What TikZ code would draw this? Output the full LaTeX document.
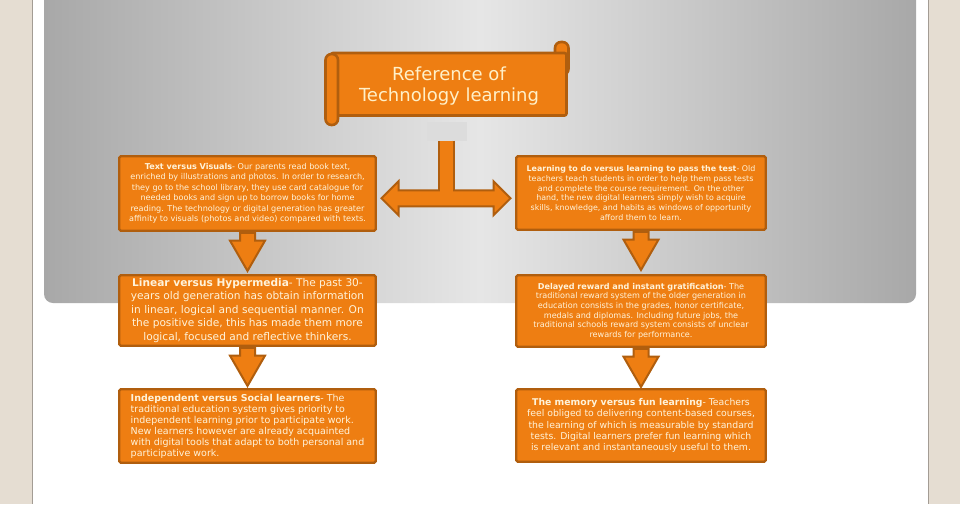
\documentclass[tikz,border=0pt]{standalone}
\usepackage{fontspec}
\setmainfont{DejaVu Sans}
\usetikzlibrary{shapes.arrows}
\definecolor{boxorange}{HTML}{EE7E12}
\definecolor{boxline}{HTML}{B05E0E}
\definecolor{boxtext}{HTML}{FFF3DA}
\definecolor{titletext}{HTML}{FFF0C8}
\definecolor{pagebeige}{HTML}{E5DDD2}
\definecolor{pageedge}{HTML}{A39C94}
\definecolor{paneldark}{HTML}{A8A8A8}
\definecolor{panellight}{HTML}{E6E6E6}
\definecolor{hubgray}{HTML}{DCDCDC}

\begin{document}
\begin{tikzpicture}[x=1pt,y=1pt]
\tikzset{
  infobox/.style={draw=boxline, line width=2.4pt, fill=boxorange, text=boxtext,
    rounded corners=1.5pt, inner sep=2pt, align=center},
  leftbox/.style={infobox, minimum width=256.5pt},
  rightbox/.style={infobox, minimum width=249.5pt},
  scrollpart/.style={draw=boxline, line width=2.6pt, fill=boxorange},
  downarrow/.style={single arrow, rotate=-90, anchor=tail, draw=boxline, line width=2pt,
    fill=boxorange, inner xsep=0pt, inner ysep=6.5pt, minimum height=38pt,
    single arrow head extend=10pt, single arrow tip angle=60},
  splitarrow/.style={double arrow, draw=boxline, line width=2pt, fill=boxorange,
    inner xsep=0pt, inner ysep=7pt, minimum height=129pt,
    double arrow head extend=9pt, double arrow tip angle=90}
}
\useasboundingbox (0,0) rectangle (960,-504);
% page and panel
\fill[pagebeige] (0,0) rectangle (960,-504);
\fill[white] (33,0) rectangle (928,-504);
\draw[pageedge, line width=1pt] (32.5,0) -- (32.5,-504);
\draw[pageedge, line width=1pt] (928.5,0) -- (928.5,-504);
\shade[left color=paneldark, right color=paneldark, middle color=panellight,
  rounded corners=9pt] (44,12) rectangle (916,-303);

% title scroll
\draw[scrollpart, rounded corners=6pt] (555,-42) rectangle (568.5,-75);
\draw[scrollpart, rounded corners=2pt] (331,-53) rectangle (566.5,-115.5);
\draw[scrollpart, rounded corners=6pt] (325.5,-54) rectangle (338,-125);
\node[text=titletext, font=\fontsize{18}{21.5}\selectfont, align=center]
  (title) at (449,-86) {Reference of\\Technology learning};
\node[fill=hubgray, minimum width=40pt, minimum height=19pt, inner sep=0pt]
  (hub) at (446.5,-131) {};

% left column
\node[leftbox, minimum height=74.5pt, font=\fontsize{8.1}{10.5}\selectfont]
  (tv) at (247.5,-193.5) {\textbf{Text versus Visuals}- Our parents read book text,\\
  enriched by illustrations and photos. In order to research,\\
  they go to the school library, they use card catalogue for\\
  needed books and sign up to borrow books for home\\
  reading. The technology or digital generation has greater\\
  affinity to visuals (photos and video) compared with texts.};
\node[leftbox, minimum height=70.5pt, font=\fontsize{10.6}{13.5}\selectfont]
  (lh) at (247.5,-310.5) {\textbf{Linear versus Hypermedia}- The past 30-\\
  years old generation has obtain information\\
  in linear, logical and sequential manner. On\\
  the positive side, this has made them more\\
  logical, focused and reflective thinkers.};
\node[leftbox, minimum height=73.5pt, align=left, font=\fontsize{9.5}{11}\selectfont]
  (is) at (247.5,-426) {\textbf{Independent versus Social learners}- The\\
  traditional education system gives priority to\\
  independent learning prior to participate work.\\
  New learners however are already acquainted\\
  with digital tools that adapt to both personal and\\
  participative work.};

% right column
\node[rightbox, minimum height=73.5pt, font=\fontsize{7.9}{9.7}\selectfont]
  (ld) at (641,-193) {\textbf{Learning to do versus learning to pass the test}- Old\\
  teachers teach students in order to help them pass tests\\
  and complete the course requirement. On the other\\
  hand, the new digital learners simply wish to acquire\\
  skills, knowledge, and habits as windows of opportunity\\
  afford them to learn.};
\node[rightbox, minimum height=71.5pt, font=\fontsize{8.1}{9.6}\selectfont]
  (dr) at (641,-311) {\textbf{Delayed reward and instant gratification}- The\\
  traditional reward system of the older generation in\\
  education consists in the grades, honor certificate,\\
  medals and diplomas. Including future jobs, the\\
  traditional schools reward system consists of unclear\\
  rewards for performance.};
\node[rightbox, minimum height=72.5pt, font=\fontsize{9.3}{11.4}\selectfont]
  (ml) at (641,-425.5) {\textbf{The memory versus fun learning}- Teachers\\
  feel obliged to delivering content-based courses,\\
  the learning of which is measurable by standard\\
  tests. Digital learners prefer fun learning which\\
  is relevant and instantaneously useful to them.};

% block arrows
\path (tv.east) -- (ld.west) node[midway, yshift=-5pt, splitarrow] (split) {};
\draw[boxline, line width=17pt, shorten >=7pt] (hub.south) -- (hub.south |- split.center);
\draw[boxorange, line width=13pt, shorten >=5pt] (hub.south) -- (hub.south |- split.center);
\path (tv.south) -- (lh.north) node[pos=0, downarrow] (a1) {};
\path (lh.south) -- (is.north) node[pos=0, downarrow] (a2) {};
\path (ld.south) -- (dr.north) node[pos=0, downarrow] (a3) {};
\path (dr.south) -- (ml.north) node[pos=0, downarrow] (a4) {};
\end{tikzpicture}
\end{document}
